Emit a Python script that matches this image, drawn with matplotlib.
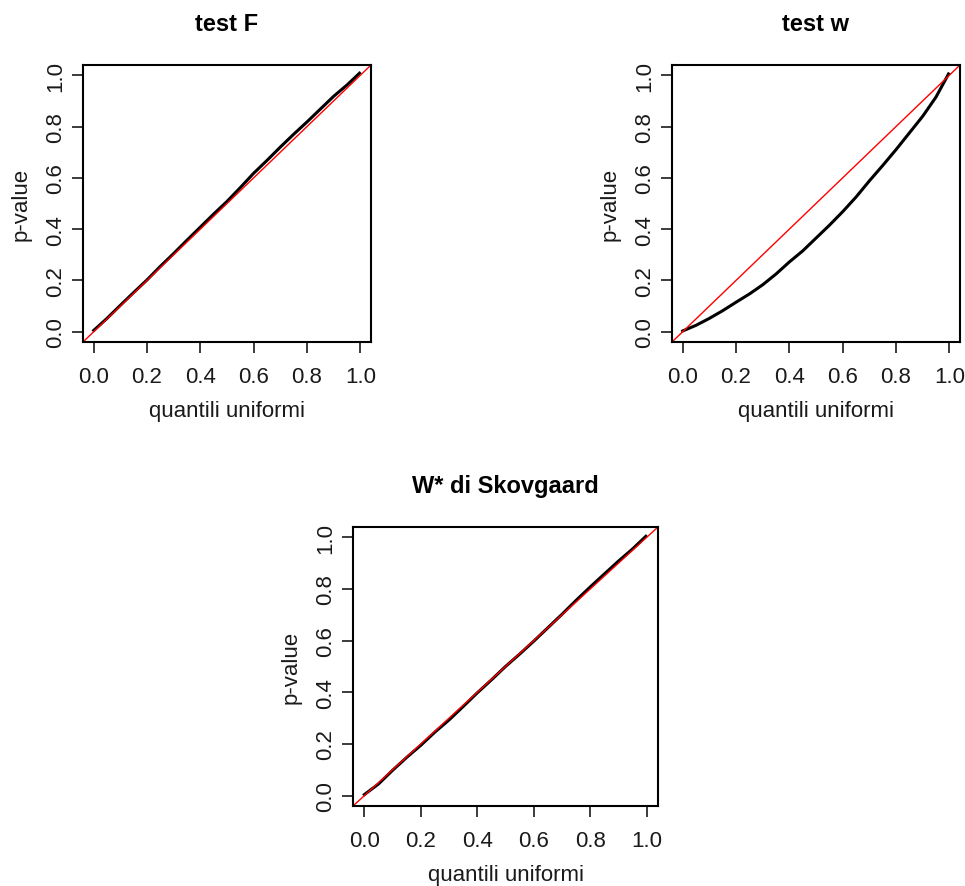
#!/usr/bin/env python3
"""QQ plots of simulated p-values against uniform quantiles (three tests)."""

import matplotlib

matplotlib.use("Agg")
import matplotlib.pyplot as plt

# uniform quantiles and the sorted p-values
quantiles = [0.0, 0.05, 0.1, 0.15, 0.2, 0.25, 0.3, 0.35, 0.4, 0.45, 0.5,
             0.55, 0.6, 0.65, 0.7, 0.75, 0.8, 0.85, 0.9, 0.95, 0.997]
pvals_f = [0.005, 0.052, 0.103, 0.153, 0.202, 0.255, 0.305, 0.357, 0.408, 0.459, 0.508,
           0.562, 0.618, 0.668, 0.720, 0.770, 0.818, 0.868, 0.918, 0.962, 1.008]
pvals_w = [0.003, 0.025, 0.052, 0.082, 0.115, 0.147, 0.183, 0.225, 0.272, 0.315, 0.365,
           0.415, 0.468, 0.525, 0.588, 0.648, 0.710, 0.775, 0.840, 0.915, 1.005]
pvals_skov = [0.004, 0.045, 0.098, 0.148, 0.195, 0.246, 0.293, 0.345, 0.398, 0.448, 0.500,
              0.548, 0.598, 0.650, 0.702, 0.756, 0.808, 0.858, 0.908, 0.955, 1.004]

titles = ["test F", "test w", "W* di Skovgaard"]
ticks = [0.0, 0.2, 0.4, 0.6, 0.8, 1.0]
tick_labels = ["0.0", "0.2", "0.4", "0.6", "0.8", "1.0"]

W, H = 965, 887
# axes boxes in pixels: left, top, right, bottom
boxes = [(83, 66, 371, 343), (672, 66, 960, 343), (353, 528, 658, 807)]

plt.rcParams["font.family"] = ["Liberation Sans", "DejaVu Sans"]

fig = plt.figure(figsize=(W / 100, H / 100), dpi=100)

for (l, t, r, b), title, pv in zip(boxes, titles, [pvals_f, pvals_w, pvals_skov]):
    ax = fig.add_axes([l / W, (H - b) / H, (r - l) / W, (b - t) / H])
    ax.plot(quantiles, pv, color="black", lw=2.2, solid_joinstyle="miter")
    ax.axline((0, 0), (1, 1), color="red", lw=1)
    ax.set_xlim(-0.04, 1.04)
    ax.set_ylim(-0.04, 1.04)
    ax.set_xticks(ticks, tick_labels)
    ax.set_yticks(ticks, tick_labels)
    ax.tick_params(axis="both", direction="out", length=8, width=1.2, labelsize=16, colors="#1a1a1a")
    ax.tick_params(axis="x", pad=9)
    ax.tick_params(axis="y", pad=4)
    for lab in ax.get_yticklabels():
        lab.set_rotation(90)
        lab.set_va("center")
    for sp in ax.spines.values():
        sp.set_linewidth(1.5)
    ax.set_title(title, fontsize=17, fontweight="bold", pad=25)
    ax.set_xlabel("quantili uniformi", fontsize=16, labelpad=10, color="#1a1a1a")
    ax.set_ylabel("p-value", fontsize=16, labelpad=10, color="#1a1a1a")

fig.savefig("out.png", dpi=100)
